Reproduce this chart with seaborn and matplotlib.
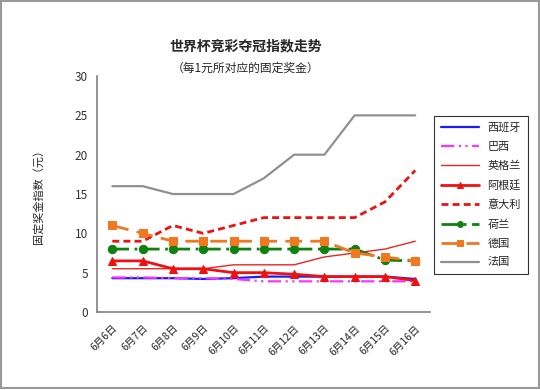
import pandas as pd
import matplotlib
matplotlib.use('Agg')
import matplotlib.pyplot as plt
import seaborn as sns

# data
dates = ['6月6日', '6月7日', '6月8日', '6月9日', '6月10日', '6月11日',
         '6月12日', '6月13日', '6月14日', '6月15日', '6月16日']
spain = [4.3, 4.3, 4.3, 4.2, 4.3, 4.5, 4.5, 4.5, 4.5, 4.5, 4.2]
brazil = [4.4, 4.4, 4.3, 4.3, 4.2, 3.9, 3.9, 3.9, 3.9, 3.9, 3.9]
england = [5.5, 5.5, 5.5, 5.5, 6, 6, 6, 7, 7.5, 8, 9]
argentina = [6.5, 6.5, 5.5, 5.5, 5, 5, 4.8, 4.5, 4.5, 4.5, 4]
italy = [9, 9, 11, 10, 11, 12, 12, 12, 12, 14, 18]
netherlands = [8, 8, 8, 8, 8, 8, 8, 8, 8, 6.6, 6.5]
germany = [11, 10, 9, 9, 9, 9, 9, 9, 7.5, 7, 6.5]
france = [16, 16, 15, 15, 15, 17, 20, 20, 25, 25, 25]

names = ['西班牙', '巴西', '英格兰', '阿根廷', '意大利', '荷兰', '德国', '法国']
series = [spain, brazil, england, argentina, italy, netherlands, germany, france]

styles = {
    '西班牙': dict(color='#1a1aff', lw=1.6, ls='-', marker=None),
    '巴西': dict(color='#ff33ff', lw=1.6, ls=(0, (6, 2, 1, 2, 1, 2)), marker=None),
    '英格兰': dict(color='#ee2222', lw=1.0, ls='-', marker=None),
    '阿根廷': dict(color='#ee1111', lw=2.0, ls='-', marker='^'),
    '意大利': dict(color='#ee1111', lw=2.0, ls=(0, (2.5, 1.5)), marker=None),
    '荷兰': dict(color='#108010', lw=2.0, ls=(0, (6, 2, 1, 2)), marker='o'),
    '德国': dict(color='#f07820', lw=2.0, ls=(0, (6, 3)), marker='s'),
    '法国': dict(color='#909090', lw=1.6, ls='-', marker=None),
}

sns.set_style('white')
plt.rcParams['font.family'] = ['Noto Sans CJK SC', 'DejaVu Sans']

fig = plt.figure(figsize=(5.4, 3.9), dpi=100)
ax = fig.add_axes([0.18, 0.2, 0.617, 0.605])

x = list(range(len(dates)))
for name, vals in zip(names, series):
    st = styles[name]
    df = pd.DataFrame({'x': x, 'y': vals})
    sns.lineplot(data=df, x='x', y='y', ax=ax, color=st['color'], linewidth=st['lw'],
                 linestyle=st['ls'], marker=st['marker'], markersize=6,
                 markeredgecolor=st['color'], label=name)

ax.set_xlim(-0.5, len(dates) - 0.5)
ax.set_ylim(0, 30)
ax.set_yticks(range(0, 31, 5))
ax.set_xticks(x)
ax.set_xticklabels(dates, rotation=45, ha='right', rotation_mode='anchor', fontsize=7.5)
ax.set_xticks([i - 0.5 for i in range(len(dates) + 1)], minor=True)
ax.tick_params(axis='x', which='major', length=0, pad=8)
ax.tick_params(axis='x', which='minor', length=3, color='#808080', direction='out')
ax.tick_params(axis='y', length=3, color='#808080', labelsize=8.5, labelcolor='#333333')
ax.set_xlabel('')
ax.set_ylabel('固定奖金指数（元）', fontsize=8)
ax.yaxis.set_label_coords(-0.16, 0.5)
for s in ['top', 'right']:
    ax.spines[s].set_visible(False)
for s in ['left', 'bottom']:
    ax.spines[s].set_color('#808080')
    ax.spines[s].set_linewidth(1.2)

leg = ax.legend(loc='upper left', bbox_to_anchor=(0.995, 0.855), frameon=True, fancybox=False,
                edgecolor='black', fontsize=8, handlelength=3.4, labelspacing=0.8,
                borderpad=0.6, markerscale=0.7)
leg.get_frame().set_linewidth(0.8)

fig.text(0.455, 0.87, '世界杯竞彩夺冠指数走势', ha='center', fontsize=10, fontweight='bold')
fig.text(0.455, 0.815, '（每1元所对应的固定奖金）', ha='center', fontsize=8.5)

# outer frame
fig.patches.append(plt.Rectangle((0.002, 0.004), 0.996, 0.994, transform=fig.transFigure,
                                 fill=False, edgecolor='#999999', linewidth=1.5))

fig.savefig('out.png', dpi=100)
